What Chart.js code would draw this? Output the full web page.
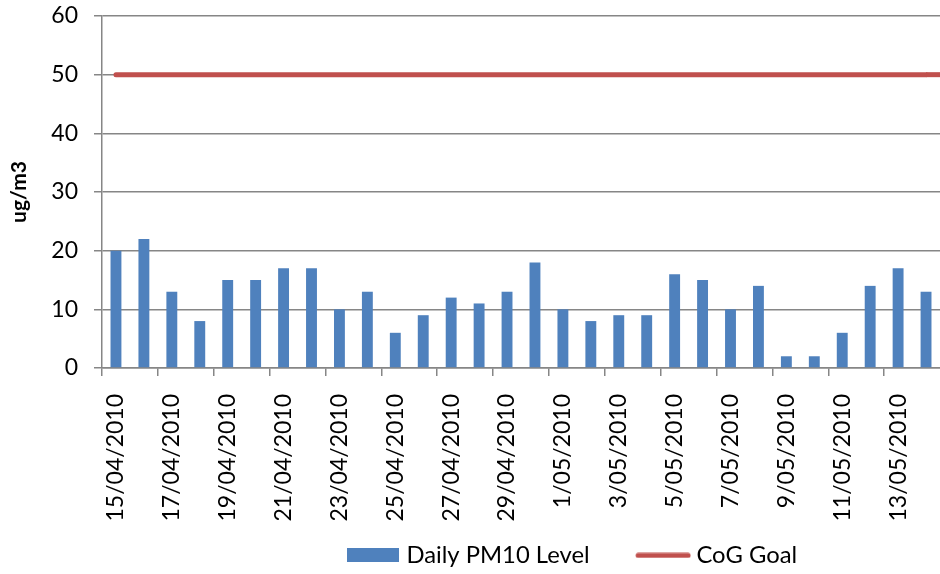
<!DOCTYPE html>
<html><head><meta charset="utf-8">
<script src="https://cdn.jsdelivr.net/npm/chart.js@4.4.1/dist/chart.umd.min.js"></script>
<style>html,body{margin:0;padding:0;background:#fff;overflow:hidden}#wrap{width:940px;height:574px;position:relative}</style>
</head><body><div id="wrap"><canvas id="c"></canvas></div>
<script>
const categories = ['15/04/2010','16/04/2010','17/04/2010','18/04/2010','19/04/2010','20/04/2010','21/04/2010','22/04/2010','23/04/2010','24/04/2010','25/04/2010','26/04/2010','27/04/2010','28/04/2010','29/04/2010','30/04/2010','1/05/2010','2/05/2010','3/05/2010','4/05/2010','5/05/2010','6/05/2010','7/05/2010','8/05/2010','9/05/2010','10/05/2010','11/05/2010','12/05/2010','13/05/2010','14/05/2010'];
const pm10Values = [20,22,13,8,15,15,17,17,10,13,6,9,12,11,13,18,10,8,9,9,16,15,10,14,2,2,6,14,17,13];
const goalValues = [50,50,50,50,50,50,50,50,50,50,50,50,50,50,50,50,50,50,50,50,50,50,50,50,50,50,50,50,50,50];
const seriesNames = ['Daily PM10 Level','CoG Goal'];
const yAxisTitle = 'ug/m3';
const yMin = 0, yMax = 60, yStep = 10;

const BLUE = '#4F81BD', RED = '#C0504D', GRID = '#868686';
Chart.defaults.font.family = 'Lato, "Open Sans", sans-serif';
Chart.defaults.color = '#000';

function makeSwatch(kind){
  const cv = document.createElement('canvas');
  cv.width = 98; cv.height = kind === 'bar' ? 14 : 6;
  const g = cv.getContext('2d');
  if (kind === 'bar') { g.fillStyle = BLUE; g.fillRect(44, 0, 52, 14); }
  else { g.strokeStyle = RED; g.lineWidth = 5; g.lineCap = 'round'; g.beginPath(); g.moveTo(45, 3); g.lineTo(95, 3); g.stroke(); }
  return cv;
}
const swatches = [makeSwatch('bar'), makeSwatch('line')];

const goalExtend = {
  id: 'goalExtend',
  afterDatasetsDraw(chart){
    const meta = chart.getDatasetMeta(1);
    const pts = meta.data; if (!pts.length) return;
    const last = pts[pts.length - 1];
    const a = chart.chartArea, ctx = chart.ctx;
    ctx.save();
    ctx.beginPath(); ctx.rect(a.left, a.top, a.right - a.left, a.bottom - a.top); ctx.clip();
    ctx.strokeStyle = RED; ctx.lineWidth = 5; ctx.lineCap = 'butt';
    ctx.beginPath(); ctx.moveTo(last.x, last.y); ctx.lineTo(a.right + 10, last.y); ctx.stroke();
    ctx.restore();
  }
};
const legendShift = {
  id: 'legendShift',
  afterLayout(chart){ const lg = chart.legend; if (!lg) return; lg.left = 299.5; lg.right = 2000; }
};

new Chart(document.getElementById('c'), {
  data: {
    labels: categories,
    datasets: [
      { type: 'bar', label: seriesNames[0], data: pm10Values, backgroundColor: BLUE, borderWidth: 0, barPercentage: 0.39, categoryPercentage: 1.0 },
      { type: 'line', label: seriesNames[1], data: goalValues, borderColor: RED, backgroundColor: RED, borderWidth: 5, pointRadius: 0, borderCapStyle: 'round', fill: false, tension: 0 }
    ]
  },
  options: {
    responsive: true, maintainAspectRatio: false, animation: false, devicePixelRatio: 1,
    layout: { padding: { left: 0, right: -6, top: 16, bottom: 0 } },
    plugins: {
      tooltip: { enabled: false },
      legend: {
        position: 'bottom', align: 'start', maxHeight: 40.5,
        labels: {
          usePointStyle: true, pointStyleWidth: 85, padding: 10, boxHeight: 14,
          font: { size: 23.8 }, color: '#000',
          generateLabels(chart){
            const items = Chart.defaults.plugins.legend.labels.generateLabels(chart);
            items.forEach(it => { it.pointStyle = swatches[it.datasetIndex]; });
            items.sort((a, b) => a.datasetIndex - b.datasetIndex);
            return items;
          }
        }
      }
    },
    scales: {
      x: {
        offset: true,
        grid: { offset: true, drawOnChartArea: false, drawTicks: true, tickLength: 8, lineWidth: 1.5,
                color: c => (c.index % 2 === 0 ? GRID : 'rgba(0,0,0,0)') },
        border: { display: true, color: GRID, width: 1.5 },
        ticks: { autoSkip: false, maxRotation: 90, minRotation: 90, padding: 18, font: { size: 23 }, color: '#000',
                 callback: (v, i) => (i % 2 === 0 ? categories[i] : '') },
        afterFit: s => { s.paddingLeft = 0; s.paddingRight = 0; s.height = 165.5; }
      },
      y: {
        min: yMin, max: yMax,
        ticks: { stepSize: yStep, padding: 16, font: { size: 23 }, color: '#000' },
        grid: { color: GRID, lineWidth: 1.5, tickLength: 8, drawTicks: true },
        border: { display: true, color: GRID, width: 1.5 },
        title: { display: true, text: yAxisTitle, font: { size: 21, weight: 'bold' }, color: '#000', padding: { top: 7, bottom: 0 } },
        afterFit: s => { s.width = 102; s.paddingTop = 0; s.paddingBottom = 0; }
      }
    }
  },
  plugins: [goalExtend, legendShift]
});
</script>
</body></html>
